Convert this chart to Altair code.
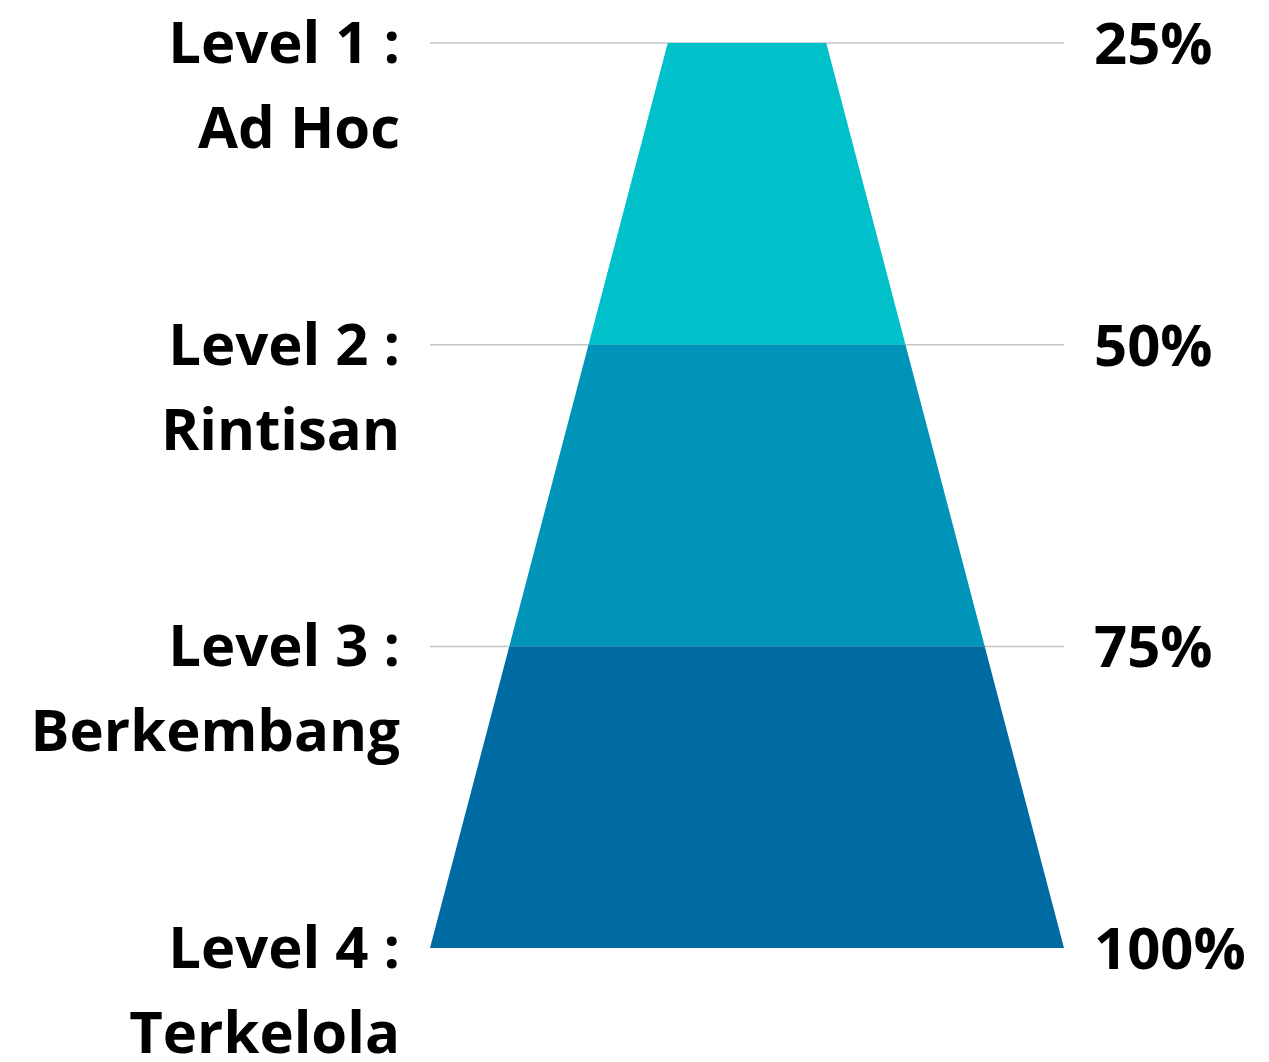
import altair as alt
import pandas as pd

# ---- data ----
levels = [1, 2, 3, 4]
level_titles = ["Level 1 :", "Level 2 :", "Level 3 :", "Level 4 :"]
stage_names = ["Ad Hoc", "Rintisan", "Berkembang", "Terkelola"]
percents = [25, 50, 75, 100]
percent_labels = ["25%", "50%", "75%", "100%"]
band_names = ["Ad Hoc", "Rintisan", "Berkembang"]
band_colors = ["#00C1C9", "#0094B9", "#006BA3"]

max_pct = max(percents)

labels_df = pd.DataFrame({
    "level": levels,
    "title": level_titles,
    "stage": stage_names,
    "pct": percents,
    "pct_label": percent_labels,
})

# each band spans from one level to the next
band_rows = []
for i, name in enumerate(band_names):
    for j in (i, i + 1):
        band_rows.append({"band": name, "order": i, "level": levels[j], "pct": percents[j]})
bands_df = pd.DataFrame(band_rows)

rules_df = pd.DataFrame({"level": levels[:3]})

W, H = 1253, 1046
x_scale = alt.Scale(domain=[-116.56, 81.07], nice=False, zero=False)
y_scale = alt.Scale(domain=[0.884, 4.351], nice=False, zero=False, reverse=True)

font = "Open Sans"
fs = 58

rules = alt.Chart(rules_df).transform_calculate(
    left=f"-{max_pct}/2", right=f"{max_pct}/2"
).mark_rule(color="#C4C4C4", strokeWidth=1.5).encode(
    y=alt.Y("level:Q", scale=y_scale, axis=None),
    x=alt.X("left:Q", scale=x_scale, axis=None),
    x2="right:Q",
)

areas = alt.Chart(bands_df).transform_calculate(
    left="-datum.pct/2", right="datum.pct/2"
).mark_area(orient="horizontal", opacity=1).encode(
    y=alt.Y("level:Q", scale=y_scale, axis=None),
    x=alt.X("left:Q", scale=x_scale, axis=None),
    x2="right:Q",
    color=alt.Color("band:N", scale=alt.Scale(domain=band_names, range=band_colors), legend=None),
    order="order:Q",
)

base_text = alt.Chart(labels_df).transform_calculate(
    left=f"-{max_pct}/2", right=f"{max_pct}/2"
)

title_text = base_text.mark_text(
    align="right", baseline="alphabetic", dx=-30, dy=20,
    font=font, fontSize=fs, fontWeight="bold", color="#000000",
).encode(
    x=alt.X("left:Q", scale=x_scale, axis=None),
    y=alt.Y("level:Q", scale=y_scale, axis=None),
    text="title:N",
)

stage_text = base_text.mark_text(
    align="right", baseline="alphabetic", dx=-30, dy=105,
    font=font, fontSize=fs, fontWeight="bold", color="#000000",
).encode(
    x=alt.X("left:Q", scale=x_scale, axis=None),
    y=alt.Y("level:Q", scale=y_scale, axis=None),
    text="stage:N",
)

pct_text = base_text.mark_text(
    align="left", baseline="alphabetic", dx=30, dy=21,
    font=font, fontSize=fs, fontWeight="bold", color="#000000",
).encode(
    x=alt.X("right:Q", scale=x_scale, axis=None),
    y=alt.Y("level:Q", scale=y_scale, axis=None),
    text="pct_label:N",
)

chart = alt.layer(rules, areas, title_text, stage_text, pct_text).properties(
    width=W, height=H, padding=0,
    autosize=alt.AutoSizeParams(type="none"),
    background="#FFFFFF",
).configure_view(stroke=None)

chart.save("out.html", embed_options={"renderer": "svg", "actions": False})
